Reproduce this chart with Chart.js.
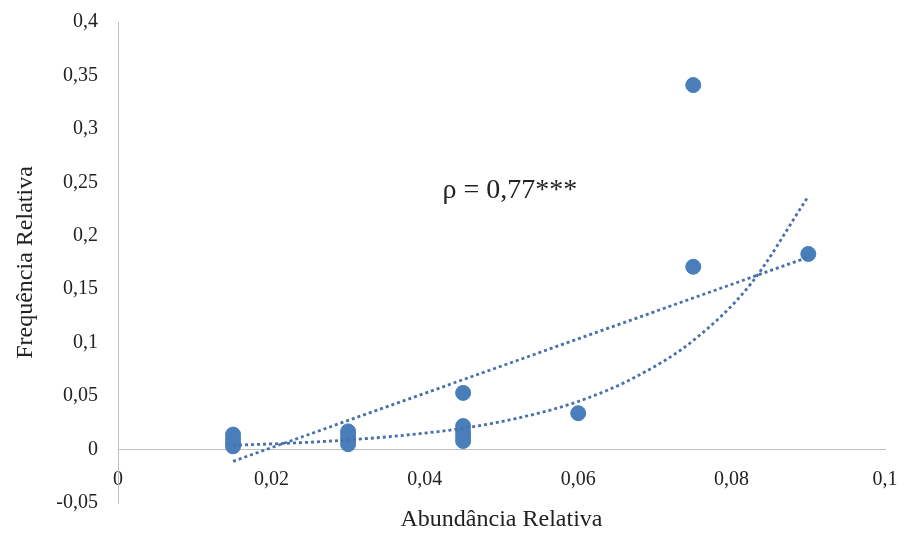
<!DOCTYPE html>
<html>
<head>
<meta charset="utf-8">
<script src="https://cdn.jsdelivr.net/npm/chart.js@4"></script>
<style>
  body { margin: 0; background: #fff; }
  #wrap { width: 906px; height: 534px; }
</style>
</head>
<body>
<div id="wrap"><canvas id="chart"></canvas></div>
<script>
// Observed points (x = abundância relativa, y = frequência relativa)
const abundancia = [
  0.015, 0.015, 0.015, 0.015,
  0.03, 0.03, 0.03, 0.03,
  0.045, 0.045, 0.045, 0.045, 0.045,
  0.06,
  0.075, 0.075,
  0.09,
];
const frequencia = [
  0.014, 0.010, 0.006, 0.003,
  0.017, 0.013, 0.009, 0.005,
  0.053, 0.022, 0.016, 0.012, 0.008,
  0.034,
  0.341, 0.171,
  0.183,
];

// Trendlines
const linearX = [0.015, 0.09];
const linearY = [-0.011, 0.180];
const expX = [0.015, 0.0225, 0.03, 0.0375, 0.045, 0.0525, 0.06, 0.0675, 0.075, 0.0825, 0.09];
const expY = [0.004, 0.006, 0.009, 0.0135, 0.020, 0.030, 0.045, 0.068, 0.102, 0.155, 0.237];

const xTicks = [0, 0.02, 0.04, 0.06, 0.08, 0.1];
const yTicks = [-0.05, 0, 0.05, 0.1, 0.15, 0.2, 0.25, 0.3, 0.35, 0.4];

const annotation = { text: "ρ = 0,77***", x: 0.0511, y: 0.242 };

const FONT = "'Liberation Serif', 'Times New Roman', serif";
const TEXT_COLOR = "#222";
const AXIS_COLOR = "#bfbfbf";
const POINT_COLOR = "#4a7ebb";
const TREND_COLOR = "#4a70ac";

const toXY = (xs, ys) => xs.map((x, i) => ({ x, y: ys[i] }));
const fmt = (v) => String(parseFloat(v.toFixed(3))).replace(".", ",");

const annotationPlugin = {
  id: "rhoLabel",
  afterDatasetsDraw(chart) {
    const { ctx, scales } = chart;
    ctx.save();
    ctx.font = `28px ${FONT}`;
    ctx.fillStyle = TEXT_COLOR;
    ctx.textAlign = "center";
    ctx.textBaseline = "middle";
    ctx.fillText(
      annotation.text,
      scales.x.getPixelForValue(annotation.x),
      scales.y.getPixelForValue(annotation.y)
    );
    ctx.restore();
  },
};

const trendStyle = {
  type: "line",
  borderColor: TREND_COLOR,
  borderWidth: 2.8,
  borderDash: [3, 3],
  pointRadius: 0,
  fill: false,
  order: 0,
};

// keep label overhang from pushing the plot area around
const noOverhang = (scale) => {
  scale.paddingTop = 0;
  scale.paddingBottom = 0;
  scale.paddingLeft = 0;
  scale.paddingRight = 0;
};

new Chart(document.getElementById("chart"), {
  type: "scatter",
  data: {
    datasets: [
      { ...trendStyle, label: "Linear", data: toXY(linearX, linearY), tension: 0 },
      { ...trendStyle, label: "Exponencial", data: toXY(expX, expY), tension: 0.4, cubicInterpolationMode: "monotone" },
      {
        label: "Dados",
        data: toXY(abundancia, frequencia),
        backgroundColor: POINT_COLOR,
        borderColor: POINT_COLOR,
        pointRadius: 7.5,
        order: 1,
      },
    ],
  },
  options: {
    responsive: true,
    maintainAspectRatio: false,
    animation: false,
    layout: { padding: { top: 22, right: 21, left: 0, bottom: 0 } },
    plugins: { legend: { display: false }, tooltip: { enabled: false } },
    scales: {
      x: {
        type: "linear",
        position: { y: 0 },
        min: 0,
        max: 0.1,
        afterBuildTicks: (scale) => { scale.ticks = xTicks.map((value) => ({ value })); },
        ticks: {
          callback: (v) => fmt(v),
          font: { family: FONT, size: 20 },
          color: TEXT_COLOR,
          padding: 18,
          maxRotation: 0,
        },
        grid: { display: false, drawTicks: false },
        border: { display: true, color: AXIS_COLOR, width: 1 },
        afterFit: noOverhang,
      },
      x2: {
        type: "linear",
        position: "bottom",
        display: true,
        ticks: { display: false },
        grid: { display: false, drawTicks: false },
        border: { display: false },
        title: {
          display: true,
          text: "Abundância Relativa",
          font: { family: FONT, size: 24 },
          color: TEXT_COLOR,
          padding: { top: 9, bottom: 0 },
        },
        afterFit: (scale) => { noOverhang(scale); scale.height = 31; },
      },
      y: {
        type: "linear",
        position: "left",
        min: -0.05,
        max: 0.4,
        afterBuildTicks: (scale) => { scale.ticks = yTicks.map((value) => ({ value })); },
        ticks: {
          callback: (v) => fmt(v),
          font: { family: FONT, size: 20 },
          color: TEXT_COLOR,
          padding: 20,
        },
        grid: { display: false, drawTicks: false },
        border: { display: true, color: AXIS_COLOR, width: 1 },
        title: {
          display: true,
          text: "Frequência Relativa",
          font: { family: FONT, size: 24 },
          color: TEXT_COLOR,
          padding: { top: 11, bottom: 0 },
        },
        afterFit: (scale) => { noOverhang(scale); scale.width = 118; },
      },
    },
  },
  plugins: [annotationPlugin],
});
</script>
</body>
</html>
